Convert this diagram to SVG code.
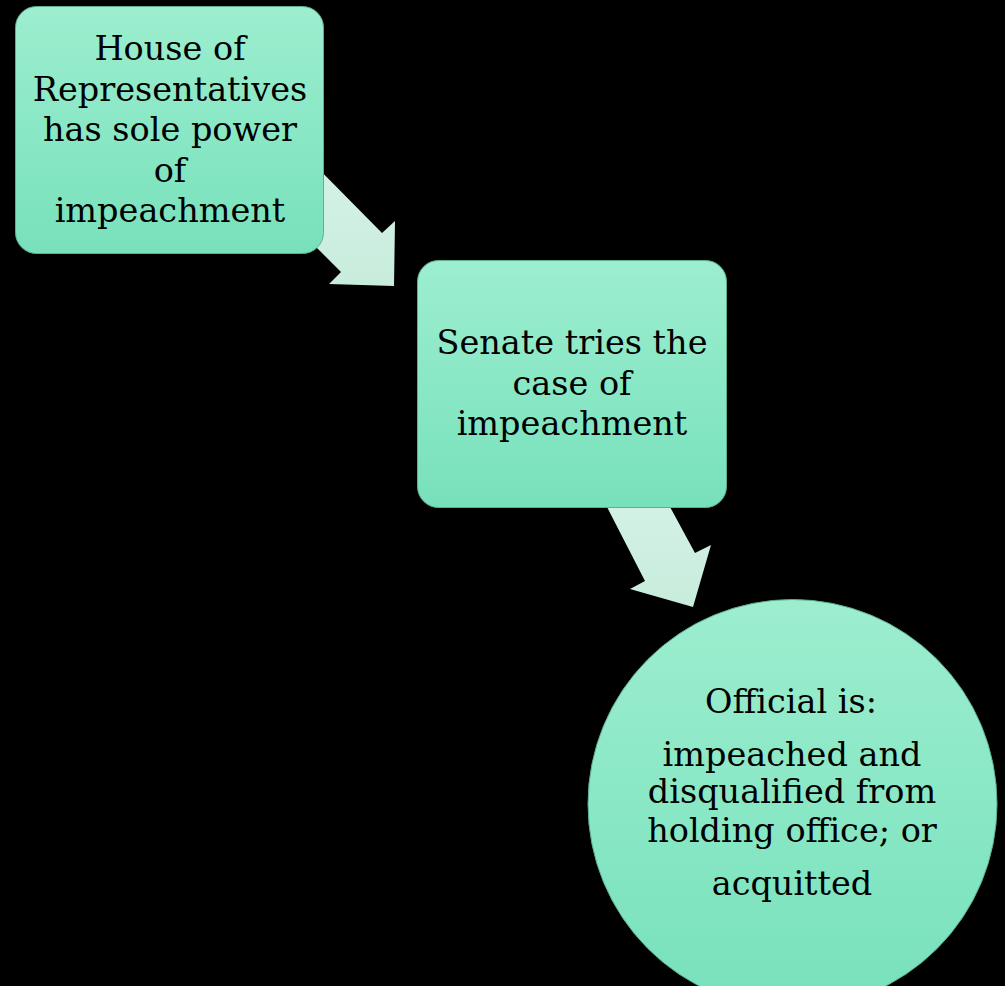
<svg xmlns="http://www.w3.org/2000/svg" width="1005" height="986" viewBox="0 0 1005 986">
  <defs>
    <linearGradient id="nodeFill" x1="0" y1="0" x2="0" y2="1">
      <stop offset="0" stop-color="#9ceecf"/>
      <stop offset="1" stop-color="#77e1bb"/>
    </linearGradient>
    <linearGradient id="arrowFill" x1="0" y1="0" x2="0" y2="1">
      <stop offset="0" stop-color="#d6f3e8"/>
      <stop offset="1" stop-color="#c8ecdc"/>
    </linearGradient>
    <style>
      .node { fill: url(#nodeFill); stroke: #5fae92; stroke-width: 1; }
      .arrow { fill: url(#arrowFill); stroke: none; }
      .label { font-family: "DejaVu Serif", Georgia, serif; font-size: 33.5px; fill: #000; text-anchor: middle; }
    </style>
  </defs>
  <rect x="0" y="0" width="1005" height="986" fill="#000"/>
  <g id="connectors">
    <polygon class="arrow" points="300,150 382,233 395,221 394,286 329,284 341,272 260,191"/>
    <polygon class="arrow" points="588,470 650,470 695,553 711,545 693,607 630,589 645,581"/>
  </g>
  <g id="node-house">
    <rect class="node" x="15.5" y="6.5" width="308" height="247" rx="21" ry="21"/>
    <text class="label" x="170" y="60">House of</text>
    <text class="label" x="170" y="101">Representatives</text>
    <text class="label" x="170" y="141">has sole power</text>
    <text class="label" x="170" y="182">of</text>
    <text class="label" x="170" y="222">impeachment</text>
  </g>
  <g id="node-senate">
    <rect class="node" x="417.5" y="260.5" width="309" height="247" rx="21" ry="21"/>
    <text class="label" x="572" y="354">Senate tries the</text>
    <text class="label" x="572" y="395">case of</text>
    <text class="label" x="572" y="435">impeachment</text>
  </g>
  <g id="node-official">
    <circle class="node" cx="792.5" cy="804" r="204.5"/>
    <text class="label" x="791" y="713">Official is:</text>
    <text class="label" x="792" y="766">impeached and</text>
    <text class="label" x="792" y="803">disqualified from</text>
    <text class="label" x="792" y="842">holding office; or</text>
    <text class="label" x="792" y="895">acquitted</text>
  </g>
</svg>
